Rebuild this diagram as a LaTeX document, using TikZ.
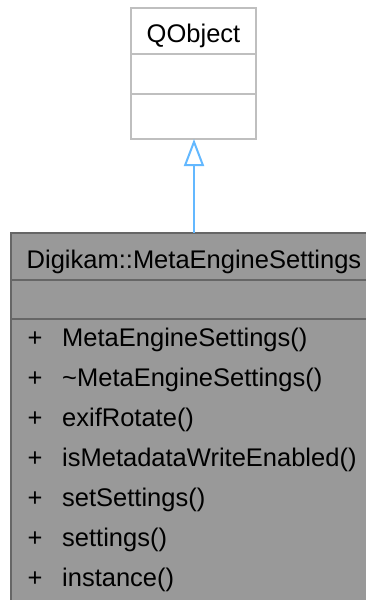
\documentclass[tikz,border=0pt]{standalone}
\usepackage{fontspec}
\setmainfont{Liberation Sans}
\usetikzlibrary{positioning,arrows.meta}
\definecolor{basegray}{HTML}{BFBFBF}
\definecolor{classfill}{HTML}{999999}
\definecolor{classline}{HTML}{666666}
\definecolor{inherit}{HTML}{63B8FF}

\begin{document}
\begin{tikzpicture}[x=1pt,y=-1pt,>={Triangle[open,length=27pt,width=20pt]},
  every node/.style={font=\fontsize{25.5}{40}\selectfont},
  basecell/.style={draw=basegray,fill=white,line width=2pt,outer sep=0pt,inner sep=0pt,minimum width=125pt},
  classcell/.style={draw=classline,fill=classfill,line width=2pt,outer sep=0pt,inner sep=0pt,minimum width=366pt},
  headtext/.style={text height=23.2pt,text depth=0pt},
  member/.style={anchor=base west,inner sep=0pt}]
\useasboundingbox (0,0) rectangle (366,600);
\clip (0,0) rectangle (366,600);
% base class
\node[basecell,headtext,minimum height=46pt] (qname) at (193.5,31) {QObject};
\node[basecell,minimum height=40pt,below=0pt of qname] (qattr) {};
\node[basecell,minimum height=45pt,below=0pt of qattr] (qops) {};
% derived class
\node[classcell,headtext,minimum height=47pt] (cname) at (194,256.5) {Digikam::MetaEngineSettings};
\node[classcell,minimum height=39pt,below=0pt of cname] (cattr) {};
\node[classcell,minimum height=300pt,below=0pt of cattr] (cops) {};
\foreach \fn [count=\i from 0] in {MetaEngineSettings(),\textasciitilde MetaEngineSettings(),exifRotate(),isMetadataWriteEnabled(),setSettings(),settings(),instance()}{
  \node[member] (plus\i) at (27.5,346.7+40*\i) {+};
  \node[member] (fn\i) at (62,346.7+40*\i) {\fn};
}
% inheritance
\draw[->,inherit,line width=2pt] (cname.north) -- (cname.north |- qops.south);
\end{tikzpicture}
\end{document}
